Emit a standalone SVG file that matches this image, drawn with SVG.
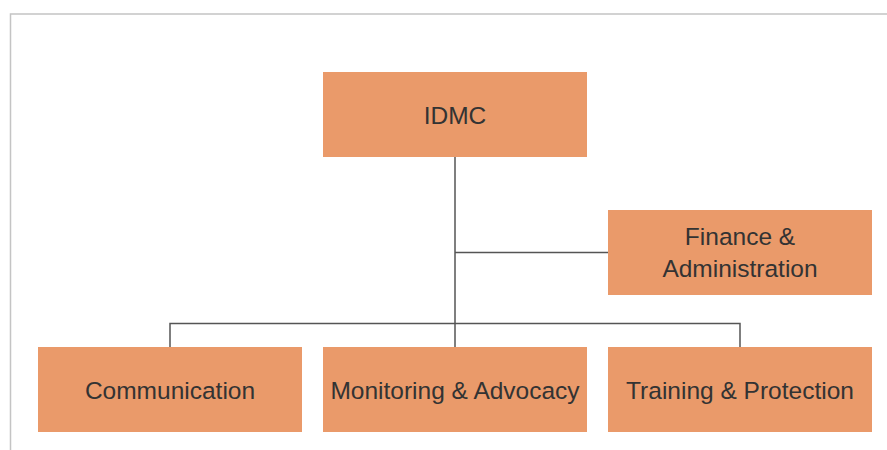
<svg xmlns="http://www.w3.org/2000/svg" width="887" height="450" viewBox="0 0 887 450">
  <style>
    .box { fill: #EA9A6A; }
    .label { font-family: "Liberation Sans", Arial, sans-serif; font-size: 24.5px; fill: #333333; text-anchor: middle; }
    .link { fill: none; stroke: #555555; stroke-width: 1.5; }
    .frame { fill: none; stroke: #c4c4c4; stroke-width: 1.5; }
  </style>
  <rect width="887" height="450" fill="#ffffff"/>
  <!-- page frame -->
  <path class="frame" d="M10.5,450 V14 H887"/>

  <!-- connectors -->
  <g id="connectors">
    <path class="link" d="M455,157 V347"/>
    <path class="link" d="M455,252.5 H608"/>
    <path class="link" d="M170,347 V323.5 H740 V347"/>
  </g>

  <g id="idmc">
    <rect class="box" x="323" y="72" width="264" height="85"/>
    <text class="label" x="455" y="123.5">IDMC</text>
  </g>

  <g id="finance">
    <rect class="box" x="608" y="210" width="264" height="85"/>
    <text class="label" x="740" y="245">Finance &amp;</text>
    <text class="label" x="740" y="276.5">Administration</text>
  </g>

  <g id="communication">
    <rect class="box" x="38" y="347" width="264" height="85"/>
    <text class="label" x="170" y="398.5">Communication</text>
  </g>

  <g id="monitoring">
    <rect class="box" x="323" y="347" width="264" height="85"/>
    <text class="label" x="455" y="398.5">Monitoring &amp; Advocacy</text>
  </g>

  <g id="training">
    <rect class="box" x="608" y="347" width="264" height="85"/>
    <text class="label" x="740" y="398.5">Training &amp; Protection</text>
  </g>
</svg>
